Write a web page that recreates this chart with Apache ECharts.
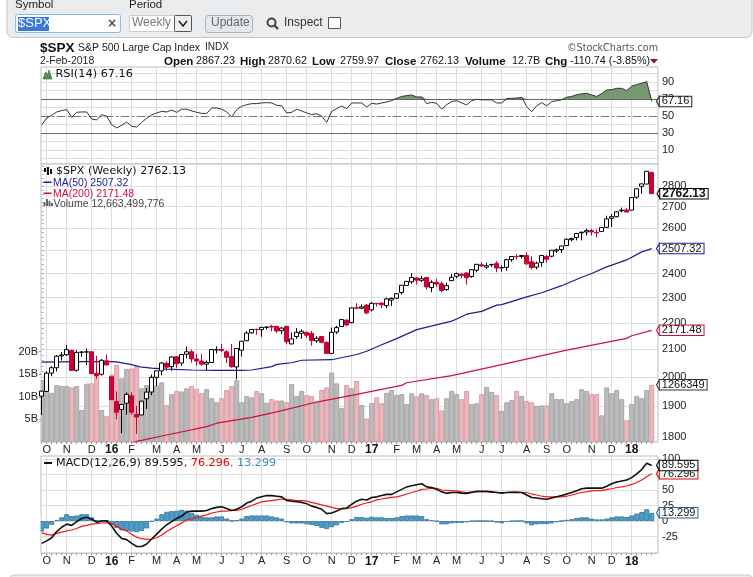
<!DOCTYPE html>
<html><head><meta charset="utf-8">
<style>html,body{margin:0;padding:0;background:#fff}#c{width:753px;height:577px}</style>
<script src="https://cdn.jsdelivr.net/npm/echarts@6/dist/echarts.min.js"></script>
</head><body><div id="c"></div>
<script>
const opens=[1934,1950,2014,2033,2076,2080,2096,2024,2089,2090,
2091,2013,2010,2058,2001,1916,1889,1910,1935,1873,
1871,1925,1948,1999,2022,2049,2037,2073,2050,2082,
2091,2065,2057,2046,2052,2098,2100,2091,2074,2036,
2097,2132,2162,2175,2174,2183,2187,2187,2170,2187,
2120,2148,2160,2164,2160,2132,2148,2126,2085,2165,
2186,2211,2201,2260,2258,2270,2251,2277,2278,2268,
2290,2298,2321,2350,2365,2381,2371,2383,2341,2363,
2357,2333,2370,2388,2397,2402,2387,2414,2437,2427,
2437,2443,2424,2426,2459,2473,2473,2477,2450,2427,
2447,2473,2474,2497,2503,2521,2547,2557,2578,2582,
2588,2580,2584,2603,2645,2652,2680,2684,2683,2745,
2798,2809,2867.23];
const highs=[1952,2020,2039,2079,2090,2116,2099,2097,2094,2104,
2093,2076,2064,2081,2001,1950,1908,1947,1947,1901,
1918,1962,2009,2022,2053,2056,2075,2075,2083,2111,
2099,2083,2084,2060,2100,2111,2120,2097,2120,2104,
2131,2169,2175,2178,2183,2186,2193,2187,2184,2187,
2163,2180,2175,2165,2169,2149,2150,2130,2182,2189,
2213,2214,2260,2278,2273,2274,2283,2279,2282,2300,
2300,2319,2351,2368,2401,2385,2390,2385,2371,2378,
2366,2362,2398,2404,2403,2405,2418,2440,2447,2446,
2442,2453,2434,2463,2475,2484,2480,2491,2474,2451,
2480,2480,2500,2508,2519,2552,2555,2576,2582,2597,
2596,2593,2604,2657,2665,2679,2695,2692,2743,2787,
2810,2873,2870.62];
const lows=[1871,1950,2003,2020,2059,2076,2022,2019,2073,2042,
2012,1994,2005,2043,1922,1857,1812,1872,1872,1810,
1871,1891,1937,1969,2006,2022,2022,2033,2039,2067,
2052,2039,2040,2025,2050,2085,2089,2050,2033,1992,
2074,2131,2159,2155,2147,2175,2168,2160,2157,2119,
2119,2139,2140,2143,2114,2124,2122,2083,2084,2157,
2186,2187,2199,2254,2254,2233,2245,2264,2258,2258,
2267,2295,2313,2348,2357,2354,2364,2333,2322,2344,
2322,2328,2370,2380,2380,2353,2382,2405,2427,2419,
2428,2405,2407,2411,2450,2459,2464,2437,2417,2417,
2429,2446,2470,2488,2488,2520,2540,2544,2544,2566,
2566,2557,2584,2605,2605,2650,2673,2673,2683,2737,
2762,2809,2759.97];
const closes=[1951,2014,2033,2075,2079,2099,2023,2089,2090,2091,
2012,2005,2060,2043,1922,1880,1906,1940,1880,1864,
1917,1948,1999,2022,2050,2035,2072,2047,2081,2091,
2065,2057,2046,2052,2099.06,2099.13,2096,2071,2037,2103,
2130,2161,2175,2174,2182.87,2184.05,2183.87,2169,2180,2128,
2139,2164,2168,2153,2133,2141,2126,2085,2164,2182,
2213,2192,2259,2258,2263,2239,2277,2275,2271,2295,
2297,2316,2351,2367,2383,2372,2378,2344,2363,2356,
2329,2349,2384,2399,2391,2382,2416,2439,2432,2433,
2438,2423,2425,2459,2472.54,2472.1,2477,2441,2425,2444,
2477,2461,2500,2502,2519,2549,2553,2575,2581,2588,
2582,2578,2602,2642,2652,2675,2683,2674,2743,2786,
2810,2873,2762.13];
const volumes=[13.7,13.6,10.9,12.6,12.4,12.4,12.1,12.4,7.1,12.9,
13.0,15.2,7.1,5.8,14.9,17.1,14.1,16.2,16.3,16.9,
11.9,12.6,14.5,12.5,13.2,8.2,10.6,11.3,11.2,11.9,
12.4,11.8,10.8,11.7,9.7,8.8,9.7,11.5,12.4,13.7,
8.8,10.2,9.9,11.3,10.8,8.7,9.5,9.2,9.2,8.8,
12.8,10.2,11.3,10.4,10.2,8.9,11.5,12.1,15.4,13.0,
7.5,12.6,11.9,13.5,8.2,5.2,8.6,9.9,8.6,10.9,
11.5,10.4,10.6,8.4,10.8,10.1,10.8,10.4,9.5,9.7,
7.0,9.7,11.3,10.6,9.5,11.3,8.4,8.6,10.6,12.2,
11.1,10.4,6.9,8.8,9.3,11.3,10.2,9.1,8.8,8.0,
8.1,8.1,10.8,9.5,9.5,8.6,9.1,9.5,11.7,11.3,
10.6,10.6,5.9,12.1,10.8,11.5,9.5,4.8,8.4,10.2,
9.7,11.5,12.66349];
const rsi=[39.4,47.6,50.8,54.7,56.3,57.5,48.4,54.3,54.7,54.7,
46.5,45.3,51.6,49.6,39.8,35.9,39,42.9,37.8,37,
42.5,47.3,51.2,53.5,55.5,54.7,57,54.3,58,58,
55.9,54.3,53,53,59.4,59.4,58,54.7,48.8,57.5,
61.4,63.3,64.5,64.5,65.3,65.7,65.3,62.5,62,53.5,
54.3,58,55.9,53.5,51.6,52.7,49.6,42.5,55.5,58.6,
61.8,58.6,65.3,65.3,65.3,60.6,64.9,64,65.3,66.5,
68,70.8,73,74,74.7,72.4,72.4,64.5,66,64.9,
58,63.3,67,68,65.3,63,68,69.6,69,69,
69,65.3,65.3,70.4,70.8,71,72,61,55,62,
65.7,61.8,66.9,68,69,72,73,75,76,76.7,
74.7,73,76.3,80.6,81,82.5,82.5,79.8,85,87,
88.4,90.4,67.16];
const macd=[-36,-32,-27,-17,-10,-5,-7,-1,4,6,
3,-2,0,0.5,-8,-20,-28,-30,-36,-41,
-41,-37,-29,-21,-13,-6,-1,4,8,14.5,
16,16,16,17,20,22,23,20,17,19,
23,29,32,37,39,41,41,40,39,33,
32,31,30,28,24,22,19,12,13,16,
20,21,27,32,35,34,38,39,41,43,
43,47,51,55,57,58.6,60,55,54,51,
47,44.6,46,46,45,44.6,46,48,48,48,
47,46,45,46,46,46,46,42,38,37,
36,35,37,39,41,43.5,46,49,52,53,
53,53,53,56,60,63,64.5,66,70,76,
83,93,89.595];
const signal=[-19,-21.5,-22.6,-20,-18,-16,-14.5,-12,-8.6,-7,
-5,-4.3,-3.2,-3,-4,-9,-13,-16,-21.5,-26,
-28.5,-29.6,-29,-27,-22.6,-17,-12,-7.5,-3,2,
4,6,8,10,13,14.5,16,16,17,17,
19,22,25,28,31,32,33,34,35.5,35,
34,33,33,32,30,28,26,24,22,20,
20,20,21.5,24,27,29,31,34,35.5,37,
38,39,41,43.5,46,48,51,51.6,53,52.7,
50,49.5,49,48.5,47,45.7,47,47,47,47,
46,46,46,46,47,47,46,46,43.5,42,
40,39,39,39,39,40,42,44,46,47,
48.5,49,49,51,52,54,55,56.5,59,62,
66,71.5,76.296];
const hist=[-17,-12,-6,1.6,6,11,8,9,11,11,
6,1.6,1.6,1,-6,-11,-15,-16,-17,-18,
-16,-12,-1,4,11,15,16,16.7,18,16.7,
13.4,10,7,6,6,7.5,7.5,4,0.5,1.6,
4,8,9,9,9,9,7.5,6,4,-2,
-4,-4,-4,-5.4,-6.5,-8,-11,-13,-10,-7,
-3,-1.6,3,6.5,6.5,5.4,7,6,6,5,
5,6,8,9,9,9,8,3,1.6,-0.5,
-5.4,-5.4,-3.8,-3,-3,-2,-0.5,0,0,0,
-0.5,-2.6,-3.8,-1.6,-0.5,0,0,-3.8,-7,-5.4,
-5,-5,-3.8,-2,0,2,3,5,6,6,
4,2.7,2.7,4,6,7.5,7.5,6.5,9,12,
14.5,19,13.299];
const ma50Idx=[0,8,14,15,18,20,22,25,30,35,40,42,46,47,50,52,58,63,65,68,71,75,82,83,85,88,91,92,97,100,104,108,110,113,117,120,122];
const ma50Vals=[2053,2055,2055,2054,2044,2035,2032,2028,2025,2024,2024,2025,2037,2045,2051,2060,2062,2081,2093,2117,2140,2174,2207,2215,2234,2245,2270,2272,2303,2320,2349,2384,2400,2428,2458,2493,2507.32];
const ma200Idx=[18,19,25,33,35,42,47,55,63,72,73,82,92,105,117,118,122];
const ma200Vals=[1780,1786,1806,1833,1844,1863,1881,1914,1940,1971,1980,2005,2044,2097,2141,2151,2171.48];
const tickIdx=[1,5,10,14,18,23,27,31,36,40,44,49,53,58,62,66,71,75,79,83,88,92,97,101,105,110,114,118];
const tickLabels=['O','N','D','16','F','M','A','M','J','J','A','S','O','N','D','17','F','M','A','M','J','J','A','S','O','N','D','18'];
const priceTicks=[1800,1900,2000,2100,2200,2300,2400,2500,2600,2700,2800];
const priceMinorTicks=[1800,1820,1840,1860,1880,1900,1920,1940,1960,1980,2000,2020,2040,2060,2080,2100,2120,2140,2160,2180,2200,2220,2240,2260,2280,2300,2320,2340,2360,2380,2400,2420,2440,2460,2480,2500,2520,2540,2560,2580,2600,2620,2640,2660,2680,2700,2720,2740,2760,2780,2800,2820,2840,2860,2880,2900];
const volumeTicks=[5,10,15,20];
const rsiLines=[0,10,20,30,40,50,60,70,80,90,100];
const rsiLabels=[10,30,50,70,90];
const macdTicks=[-50,-25,0,25,50,75,100];
const macdLabels=[-25,0,25,50,75,100];

const FONT='"Liberation Sans",Arial,sans-serif', DJ='"DejaVu Sans",sans-serif';
const N=closes.length, last=N-1;
const XMIN=-0.14, XMAX=123.26;
const weekIdx=closes.map((_,i)=>i);
const pairs=(xs,ys)=>xs.map((x,i)=>[x,ys[i]]);
const GL=41,GW=617;
const grids=[{left:GL,width:GW,top:67,height:97},{left:GL,width:GW,top:164,height:278},{left:GL,width:GW,top:456,height:97.3}]
  .map(g=>Object.assign(g,{show:true,backgroundColor:'#fff',borderColor:'#bcbcbc',borderWidth:1}));

function monthAxis(gridIndex,labels){return {type:'value',gridIndex,min:XMIN,max:XMAX,position:'bottom',
  axisLine:{show:false},
  axisTick:{show:false,customValues:tickIdx},
  splitLine:{show:true,lineStyle:{color:'#dcdcdc',width:1}},
  axisLabel:{show:labels,customValues:tickIdx,margin:2,hideOverlap:false,color:'#222',fontFamily:FONT,fontSize:11,
    formatter:v=>{const s=tickLabels[tickIdx.indexOf(v)]||'';return /\d/.test(s)?'{b|'+s+'}':s;},
    rich:{b:{fontWeight:'bold',fontSize:12,fontFamily:FONT,color:'#111'}}}};}
function weekAxis(gridIndex){return {type:'value',gridIndex,min:XMIN,max:XMAX,position:'bottom',
  axisLine:{show:false},splitLine:{show:false},axisLabel:{show:false},
  axisTick:{show:true,length:2,customValues:weekIdx,lineStyle:{color:'#999'}}};}

const yLab={color:'#222',fontFamily:FONT,fontSize:11,margin:4,hideOverlap:false,formatter:v=>String(v)};
const yAxes=[
 {type:'value',gridIndex:0,position:'right',min:-6.5,max:107.6,axisLine:{show:false},
  axisTick:{show:false,customValues:rsiLines},splitLine:{show:true,lineStyle:{color:'#dedede'}},
  axisLabel:Object.assign({customValues:rsiLabels},yLab)},
 {type:'log',logBase:10,gridIndex:1,position:'right',min:1784,max:2910,axisLine:{show:false},
  axisTick:{show:false,customValues:priceTicks},splitLine:{show:true,lineStyle:{color:'#dedede'}},
  minorTick:{show:false},minorSplitLine:{show:false},
  axisLabel:Object.assign({customValues:priceTicks},yLab)},
 {type:'log',logBase:10,gridIndex:1,position:'right',min:1784,max:2910,axisLine:{show:false},
  axisTick:{show:true,length:2,customValues:priceMinorTicks,lineStyle:{color:'#aaa'}},splitLine:{show:false},axisLabel:{show:false}},
 {type:'value',gridIndex:1,position:'left',min:0,max:61.6,z:10,axisLine:{show:false},
  axisTick:{show:true,length:2,customValues:volumeTicks,lineStyle:{color:'#999'}},splitLine:{show:false},
  axisLabel:Object.assign({},yLab,{customValues:volumeTicks,formatter:v=>v+'B',margin:3})},
 {type:'value',gridIndex:2,position:'right',min:-52,max:104.8,axisLine:{show:false},
  axisTick:{show:false,customValues:macdTicks},splitLine:{show:true,lineStyle:{color:'#dedede'}},
  axisLabel:Object.assign({customValues:macdLabels},yLab)}
];

function flag(value,text,border,opt){
  opt=opt||{};
  const tip=opt.tip||656.5;
  const xi=GL+(last-XMIN)/(XMAX-XMIN)*GW;
  return {coord:[last,value],value:text,
    symbol:'path://M3 0L0 5L3 10Z',symbolSize:[3,10],symbolKeepAspect:false,
    symbolOffset:[tip-xi+1.5,0],
    itemStyle:{color:'#fff',borderColor:border,borderWidth:1,opacity:1},
    label:{show:true,position:'right',distance:0,formatter:text,color:opt.color||'#111',
      fontFamily:FONT,fontSize:opt.size||11,fontWeight:opt.bold?'bold':'normal',
      backgroundColor:'#fff',borderColor:border,borderWidth:1,padding:[0,2,0,2],lineHeight:9.5}};
}
const mp=d=>({silent:true,animation:false,data:d,z:20});

const option={
 animation:false,backgroundColor:'#fff',
 grid:grids,
 xAxis:[monthAxis(0,false),monthAxis(1,true),weekAxis(1),monthAxis(2,true),weekAxis(2)],
 yAxis:yAxes,
 series:[
  {type:'line',name:'RSI over',xAxisIndex:0,yAxisIndex:0,symbol:'none',silent:true,z:2,
   data:pairs(weekIdx,rsi.map(v=>Math.max(v,70))),lineStyle:{width:0},
   areaStyle:{origin:70,color:'#76996f',opacity:1}},
  {type:'line',name:'RSI',xAxisIndex:0,yAxisIndex:0,symbol:'none',silent:true,z:4,
   data:pairs(weekIdx,rsi),lineStyle:{color:'#333',width:1},
   markLine:{silent:true,symbol:'none',animation:false,label:{show:false},z:3,
     data:[{yAxis:70,lineStyle:{color:'#666',width:1,type:'solid'}},
           {yAxis:30,lineStyle:{color:'#666',width:1,type:'solid'}},
           {yAxis:50,lineStyle:{color:'#777',width:1,type:[8,3,2,3]}}]},
   markPoint:mp([flag(rsi[last],'67.16','#222')])},
  {type:'bar',name:'Volume',xAxisIndex:1,yAxisIndex:3,barWidth:5,silent:true,z:1,clip:true,
   data:volumes.map((v,i)=>{const dn=i>0&&closes[i]<closes[i-1];
     return {value:[i,v],itemStyle:dn?{color:'#e8b9be',borderColor:'#dc9aa3',borderWidth:1}
                                     :{color:'#bcbcbc',borderColor:'#a6a6a6',borderWidth:1}};}),
   markPoint:mp([flag(volumes[last],'1266349','#333')])},
  {type:'line',name:'MA(200)',xAxisIndex:1,yAxisIndex:1,symbol:'none',silent:true,z:3,
   data:pairs(ma200Idx,ma200Vals),lineStyle:{color:'#d0103c',width:1.2},
   markPoint:mp([flag(ma200Vals[ma200Vals.length-1],'2171.48','#c8103c')])},
  {type:'line',name:'MA(50)',xAxisIndex:1,yAxisIndex:1,symbol:'none',silent:true,z:3,
   data:pairs(ma50Idx,ma50Vals),lineStyle:{color:'#1c1c8e',width:1.2},
   markPoint:mp([flag(ma50Vals[ma50Vals.length-1],'2507.32','#1c1c8e')])},
  {type:'candlestick',name:'$SPX',xAxisIndex:1,yAxisIndex:1,barWidth:4,silent:true,z:5,
   data:closes.map((c,i)=>[i,opens[i],c,lows[i],highs[i]]),
   itemStyle:{color:'#fff',color0:'#cc0033',borderColor:'#000',borderColor0:'#cc0033',borderWidth:1},
   markPoint:mp([flag(closes[last],'2762.13','#000',{bold:true,size:12,tip:657})])},
  {type:'bar',name:'Hist',xAxisIndex:3,yAxisIndex:4,barWidth:5,silent:true,z:1,clip:true,
   data:pairs(weekIdx,hist),itemStyle:{color:'#4c9fc8',borderColor:'#3d7fa8',borderWidth:1},
   markPoint:mp([flag(hist[last],'13.299','#2b5f8f')])},
  {type:'line',name:'Signal',xAxisIndex:3,yAxisIndex:4,symbol:'none',silent:true,z:3,
   data:pairs(weekIdx,signal),lineStyle:{color:'#f01818',width:1.2},
   markPoint:mp([flag(signal[last],'76.296','#e00000')])},
  {type:'line',name:'MACD',xAxisIndex:3,yAxisIndex:4,symbol:'none',silent:true,z:4,
   data:pairs(weekIdx,macd),lineStyle:{color:'#111',width:1.6},
   markPoint:mp([flag(macd[last],'89.595','#000')])}
 ],
 graphic:{elements:[
  {type:'rect',shape:{x:38,y:375,width:2.5,height:67.5},style:{fill:'#fff'},silent:true,z:2},
  {type:'rect',shape:{x:38,y:515,width:2.5,height:20},style:{fill:'#fff'},silent:true,z:2},
  {type:'rect',shape:{x:7,y:-10,width:745,height:47.5,r:6},style:{fill:'#ebecee',stroke:'#c6c6c6'},silent:true,z:1},
  {type:'rect',shape:{x:10,y:575,width:742,height:12,r:4},style:{fill:'#ebecee',stroke:'#c6c6c6'},silent:true,z:1},
  {type:'text',x:15,y:-1,style:{text:'Symbol',fontFamily:FONT,fontSize:11.5,fill:'#222'},z:2},
  {type:'text',x:129,y:-1,style:{text:'Period',fontFamily:FONT,fontSize:11.5,fill:'#222'},z:2},
  {type:'rect',shape:{x:15.5,y:14.5,width:105,height:18,r:2},style:{fill:'#fff',stroke:'#8db8e6'},z:2},
  {type:'rect',shape:{x:18,y:17,width:31,height:14},style:{fill:'#3a78d6'},z:3},
  {type:'text',x:18,y:17,style:{text:'$SPX',fontFamily:FONT,fontSize:13,fill:'#fff'},z:4},
  {type:'text',x:108,y:17,style:{text:'×',fontFamily:FONT,fontSize:14,fontWeight:'bold',fill:'#555'},z:4},
  {type:'rect',shape:{x:129.5,y:15.5,width:62,height:16,r:1},style:{fill:'#fff',stroke:'#ccc'},z:2},
  {type:'text',x:132,y:17,style:{text:'Weekly',fontFamily:FONT,fontSize:12,fill:'#777'},z:3},
  {type:'rect',shape:{x:174.5,y:15.5,width:17,height:16,r:1},style:{fill:'#eee',stroke:'#555'},z:3},
  {type:'polyline',shape:{points:[[179,21],[183,26],[187,21]]},style:{stroke:'#222',fill:'none',lineWidth:1.6},z:4},
  {type:'rect',shape:{x:205.5,y:15.5,width:47,height:17,r:3},style:{fill:'#e4e8ee',stroke:'#a8b0b8'},z:2},
  {type:'text',x:211,y:17,style:{text:'Update',fontFamily:FONT,fontSize:12,fill:'#666'},z:3},
  {type:'circle',shape:{cx:271.5,cy:22.5,r:4},style:{fill:'none',stroke:'#444',lineWidth:2},z:3},
  {type:'line',shape:{x1:274.5,y1:25.5,x2:278,y2:29},style:{stroke:'#444',lineWidth:2.4},z:3},
  {type:'text',x:284,y:17,style:{text:'Inspect',fontFamily:FONT,fontSize:12,fill:'#333'},z:3},
  {type:'rect',shape:{x:328.5,y:17.5,width:12,height:11},style:{fill:'#fff',stroke:'#555'},z:3},

  {type:'text',x:40,y:41.5,style:{text:'$SPX',fontFamily:FONT,fontSize:13.5,fontWeight:'bold',fill:'#111'},z:3},
  {type:'text',x:78,y:42.5,style:{text:'S&P 500 Large Cap Index',fontFamily:FONT,fontSize:10.5,fill:'#222'},z:3},
  {type:'text',x:205,y:42.5,style:{text:'INDX',fontFamily:FONT,fontSize:10,fill:'#222'},z:3},
  {type:'text',x:40,y:56,style:{text:'2-Feb-2018',fontFamily:FONT,fontSize:10.5,fill:'#222'},z:3},
  ...[[164,'Open',1],[196,'2867.23',0],[240,'High',1],[268,'2870.62',0],[312,'Low',1],[340,'2759.97',0],
      [385,'Close',1],[420,'2762.13',0],[465,'Volume',1],[512,'12.7B',0],[545,'Chg',1],[570,'-110.74 (-3.85%)',0]]
    .map(a=>({type:'text',x:a[0],y:55.5,style:{text:a[1],fontFamily:FONT,fontSize:a[2]?11.5:10.8,fontWeight:a[2]?'bold':'normal',fill:'#111'},z:3})),
  {type:'polygon',shape:{points:[[650,59],[658,59],[654,63.5]]},style:{fill:'#8b1030'},z:3},
  {type:'text',x:658,y:43.5,style:{text:'©StockCharts.com',align:'right',fontFamily:DJ,fontSize:9.6,fill:'#555'},z:3},

  {type:'polygon',shape:{points:[[43,79],[45.5,72],[47.5,75],[49,70],[52,79]]},style:{fill:'#5d8a5a',stroke:'#3c5f3a',lineWidth:0.6},z:3},
  {type:'text',x:55.5,y:69,style:{text:'RSI(14) 67.16',fontFamily:DJ,fontSize:11.3,fill:'#111'},z:6},
  ...[[44,168,172],[47,167,175],[50,169,174]].map(a=>({type:'rect',shape:{x:a[0],y:a[1],width:2,height:a[2]-a[1]},style:{fill:'#111'},z:6})),
  {type:'text',x:56,y:166,style:{text:'$SPX (Weekly) 2762.13',fontFamily:DJ,fontSize:11.1,fill:'#111'},z:6},
  {type:'rect',shape:{x:43.5,y:181.5,width:8,height:1.5},style:{fill:'#1c1c8e'},z:6},
  {type:'text',x:53,y:177.5,style:{text:'MA(50) 2507.32',fontFamily:FONT,fontSize:10.5,fill:'#1c1c8e'},z:6},
  {type:'rect',shape:{x:43.5,y:192.5,width:8,height:1.5},style:{fill:'#d0103c'},z:6},
  {type:'text',x:53,y:188.5,style:{text:'MA(200) 2171.48',fontFamily:FONT,fontSize:10.5,fill:'#d0103c'},z:6},
  ...[[43.5,202,4],[46,199,7],[48.5,201,5],[51,203,3]].map(a=>({type:'rect',shape:{x:a[0],y:a[1],width:2,height:a[2]},style:{fill:'#666'},z:6})),
  {type:'text',x:53.5,y:198.5,style:{text:'Volume 12,663,499,776',fontFamily:FONT,fontSize:10.5,fill:'#444'},z:6},
  {type:'rect',shape:{x:44,y:462,width:8,height:2},style:{fill:'#111'},z:6},
  {type:'text',x:56,y:458,style:{rich:{a:{fontFamily:DJ,fontSize:11.2,fill:'#111'},b:{fontFamily:DJ,fontSize:11.2,fill:'#e00000'},c:{fontFamily:DJ,fontSize:11.2,fill:'#3a8fc0'}},
     text:'{a|MACD(12,26,9) 89.595}{b|, 76.296}{c|, 13.299}'},z:6}
 ]}
};
echarts.init(document.getElementById('c'),null,{renderer:'canvas'}).setOption(option);
</script></body></html>
